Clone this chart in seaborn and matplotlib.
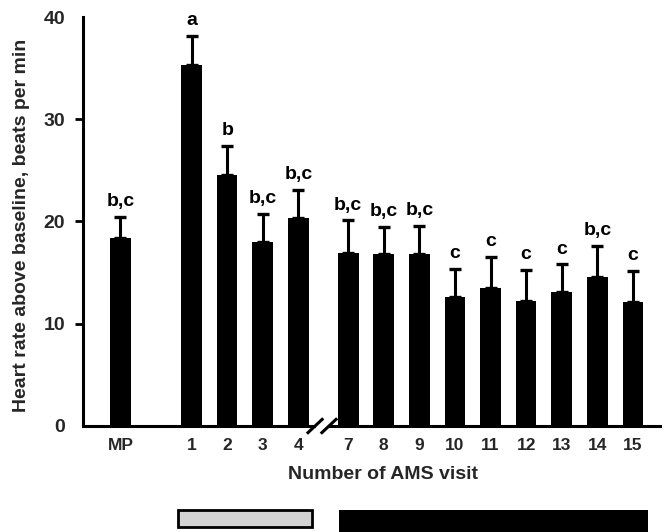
import numpy as np
import pandas as pd
import matplotlib
matplotlib.use("Agg")
import matplotlib.pyplot as plt
import matplotlib.transforms as mtransforms
from matplotlib.patches import Rectangle
import seaborn as sns

# ---- data ----
labels = ["MP", "1", "2", "3", "4", "7", "8", "9", "10", "11", "12", "13", "14", "15"]
means = [18.4, 35.3, 24.5, 18.0, 20.3, 16.9, 16.8, 16.8, 12.6, 13.5, 12.25, 13.1, 14.6, 12.15]
errors = [2.0, 2.8, 2.9, 2.7, 2.8, 3.2, 2.7, 2.8, 2.8, 3.0, 3.05, 2.7, 3.0, 3.0]
letters = ["b,c", "a", "b", "b,c", "b,c", "b,c", "b,c", "b,c", "c", "c", "c", "c", "b,c", "c"]
yticks = [0, 10, 20, 30, 40]

# ---- positions (layout) ----
def position(lab):
    if lab == "MP":
        return 0.0
    v = int(lab)
    return v + 1.0 if v <= 4 else v - 0.6

pos = [position(l) for l in labels]
df = pd.DataFrame({"pos": pos, "mean": means, "err": errors, "label": labels})

sns.set_theme(style="white")
plt.rcParams["font.family"] = ["Liberation Sans", "DejaVu Sans"]
plt.rcParams["font.weight"] = "bold"

fig = plt.figure(figsize=(6.65, 5.32), dpi=100)
ax = fig.add_axes([83 / 665, 106 / 532, 577 / 665, 409 / 532])

sns.barplot(data=df, x="pos", y="mean", native_scale=True, color="black",
            width=0.58, errorbar=None, ax=ax, saturation=1, edgecolor="black", linewidth=0)

ax.errorbar(df["pos"], df["mean"], yerr=[np.zeros(len(df)), df["err"]], fmt="none",
            ecolor="black", elinewidth=2.2, capsize=4.5, capthick=2.4, zorder=3)

for x, m, e, t in zip(df["pos"], df["mean"], df["err"], letters):
    ax.annotate(t, (x, m + e), xytext=(0, 5), textcoords="offset points",
                ha="center", va="bottom", fontsize=14, fontweight="bold", color="black")

ax.set_xlim(-1.05, 15.16)
ax.set_ylim(0, 40)
ax.set_xticks(df["pos"])
ax.set_xticklabels(labels, fontsize=12.5, fontweight="bold")
ax.set_yticks(yticks)
ax.set_yticklabels([str(t) for t in yticks], fontsize=14, fontweight="bold")
ax.tick_params(axis="x", length=0, pad=9)
ax.tick_params(axis="y", direction="out", length=6, width=2, pad=7, left=True, color="black")
yt = ax.yaxis.get_major_ticks()
yt[0].tick1line.set_visible(False)
yt[-1].tick1line.set_visible(False)

for side in ["top", "right"]:
    ax.spines[side].set_visible(False)
for side in ["left", "bottom"]:
    ax.spines[side].set_linewidth(2.2)
    ax.spines[side].set_color("black")

ax.set_ylabel("Heart rate above baseline, beats per min", fontsize=14, fontweight="bold")
ax.yaxis.set_label_coords(-0.092, 0.49)
ax.set_xlabel("Number of AMS visit", fontsize=14, fontweight="bold")
ax.xaxis.set_label_coords(0.52, -0.098)

# axis break marks
bx1, bx2 = 5.47, 5.86
ax.plot([bx1 + 0.03, bx2 - 0.03], [0, 0], color="white", lw=4, clip_on=False, zorder=5,
        solid_capstyle="butt")
for bx in (bx1, bx2):
    ax.plot([bx - 0.23, bx + 0.23], [-0.75, 0.75], color="black", lw=2.2, clip_on=False,
            zorder=6, solid_capstyle="butt")

# bottom bars indicating visit groups
trans = mtransforms.blended_transform_factory(ax.transData, fig.transFigure)
fig.add_artist(Rectangle((1.62, 0.0094), 5.38 - 1.62, 0.032, transform=trans,
                         facecolor="#d3d3d3", edgecolor="black", lw=2, clip_on=False))
fig.add_artist(Rectangle((6.14, -0.02), 14.82 - 6.14, 0.0614, transform=trans,
                         facecolor="black", edgecolor="black", lw=0, clip_on=False))

fig.savefig("out.png", dpi=100)
